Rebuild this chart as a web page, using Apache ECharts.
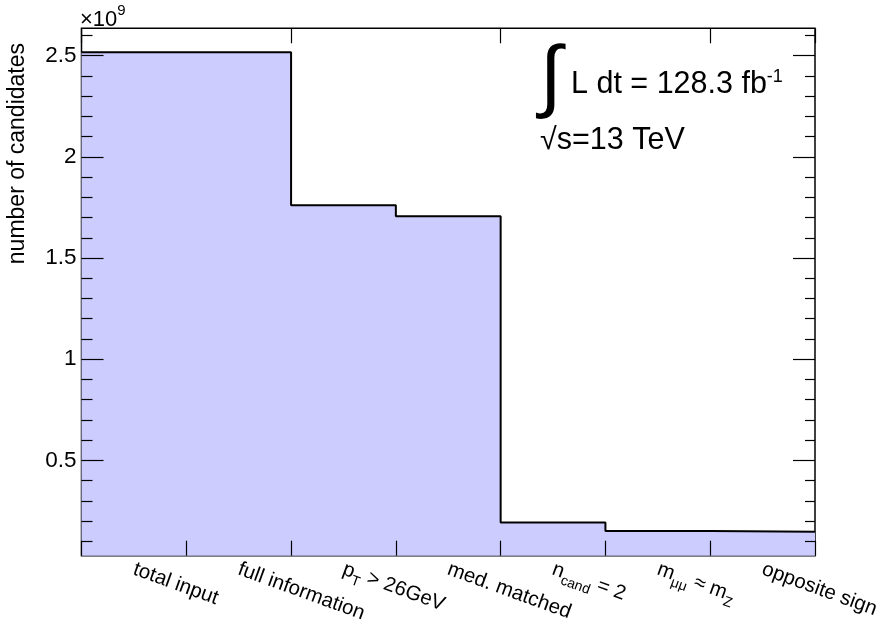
<!DOCTYPE html>
<html>
<head>
<meta charset="utf-8">
<script src="https://cdn.jsdelivr.net/npm/echarts@6/dist/echarts.min.js"></script>
<style>
  html, body { margin: 0; padding: 0; background: #ffffff; }
  #chart { width: 879px; height: 622px; }
</style>
</head>
<body>
<div id="chart"></div>
<script>
// Cut-flow steps; "_{...}" marks a subscript
const categories = [
  'total input',
  'full information',
  'p_{T} > 26GeV',
  'med. matched',
  'n_{cand} = 2',
  'm_{μμ} ≈ m_{Z}',
  'opposite sign'
];
// Candidates surviving each step, in units of 10^9
const candidates = [2.517, 2.517, 1.761, 1.706, 0.192, 0.150, 0.147];
// Y tick positions (units of 10^9)
const yMajorTicks = [0.5, 1, 1.5, 2, 2.5];
const yMinorTicks = [0.1, 0.2, 0.3, 0.4, 0.6, 0.7, 0.8, 0.9, 1.1, 1.2, 1.3, 1.4,
                     1.6, 1.7, 1.8, 1.9, 2.1, 2.2, 2.3, 2.4, 2.6];
const yTitle = 'number of candidates';
const yExponent = '9';
const lumiValue = '128.3';
const sqrtS = '13 TeV';

const FONT = '"Liberation Sans", Arial, Helvetica, sans-serif';
const FILL = '#ccccff';

// vertical range: data span padded by 5% on each side
const vMin = Math.min(...candidates), vMax = Math.max(...candidates);
const pad = 0.05 * (vMax - vMin);
const yMin = vMin - pad, yMax = vMax + pad;

// step outline: each bin drawn from its left edge to the next edge
const stepData = candidates.map((v, i) => [i, v]);
stepData.push([candidates.length, candidates[candidates.length - 1]]);

function toRich(s) {
  const re = /_\{([^}]*)\}/g;
  let out = '', last = 0, m;
  while ((m = re.exec(s))) {
    if (m.index > last) out += '{t|' + s.slice(last, m.index) + '}';
    out += '{s|' + m[1] + '}';
    last = re.lastIndex;
  }
  if (last < s.length) out += '{t|' + s.slice(last) + '}';
  return out;
}

const yAxisBase = {
  type: 'value', min: yMin, max: yMax, z: 5,
  splitLine: { show: false }, axisLine: { show: false }
};
const tickStyle = { color: '#000', width: 1.2 };

const chart = echarts.init(document.getElementById('chart'), null, { renderer: 'canvas' });
chart.setOption({
  animation: false,
  backgroundColor: '#ffffff',
  grid: {
    left: 81.5, right: 64, top: 28.3, bottom: 66.3,
    show: true, borderColor: '#000', borderWidth: 1.5, backgroundColor: 'transparent',
    containLabel: false, outerBoundsMode: 'none'
  },
  xAxis: [
    {
      type: 'category', data: categories, position: 'bottom', boundaryGap: true,
      axisLine: { show: false },
      axisTick: { show: true, inside: true, length: 15, lineStyle: tickStyle },
      axisLabel: {
        rotate: -20, margin: 13, interval: 0,
        formatter: v => toRich(v),
        rich: {
          t: { fontFamily: FONT, fontSize: 20.5, color: '#000', lineHeight: 24 },
          s: { fontFamily: FONT, fontSize: 14, color: '#000', lineHeight: 24, padding: [16, 0, 0, 0] }
        }
      },
      z: 5
    },
    {
      type: 'category', data: categories, position: 'top', boundaryGap: true,
      axisLine: { show: false },
      axisTick: { show: true, inside: true, length: 15, lineStyle: tickStyle },
      axisLabel: { show: false },
      z: 5
    },
    {
      type: 'value', min: 0, max: categories.length, show: false
    }
  ],
  yAxis: [
    Object.assign({}, yAxisBase, {
      position: 'left',
      axisTick: { show: true, inside: true, length: 22, customValues: yMajorTicks, lineStyle: tickStyle },
      axisLabel: {
        customValues: yMajorTicks, margin: 5,
        fontFamily: FONT, fontSize: 22.5, color: '#000'
      }
    }),
    Object.assign({}, yAxisBase, {
      position: 'left',
      axisTick: { show: true, inside: true, length: 11, customValues: yMinorTicks, lineStyle: tickStyle },
      axisLabel: { show: false }
    }),
    Object.assign({}, yAxisBase, {
      position: 'right',
      axisTick: { show: true, inside: true, length: 22, customValues: yMajorTicks, lineStyle: tickStyle },
      axisLabel: { show: false }
    }),
    Object.assign({}, yAxisBase, {
      position: 'right',
      axisTick: { show: true, inside: true, length: 10, customValues: yMinorTicks, lineStyle: tickStyle },
      axisLabel: { show: false }
    })
  ],
  series: [
    {
      type: 'line',
      xAxisIndex: 2, yAxisIndex: 0,
      data: stepData,
      step: 'end',
      symbol: 'none',
      lineStyle: { color: '#000', width: 2 },
      areaStyle: { color: FILL, opacity: 1, origin: 'start' },
      z: 2
    }
  ],
  graphic: [
    {
      type: 'text', left: 80, top: 3,
      style: {
        text: '{a|×10}{b|' + yExponent + '}',
        rich: {
          a: { fontFamily: FONT, fontSize: 22, fill: '#000', lineHeight: 28, verticalAlign: 'bottom' },
          b: { fontFamily: FONT, fontSize: 15, fill: '#000', lineHeight: 28, verticalAlign: 'top', padding: [0, 0, 6, 0] }
        }
      }
    },
    {
      type: 'text', x: 18, y: 43, rotation: Math.PI / 2,
      style: {
        text: yTitle, fontFamily: FONT, fontSize: 23, fill: '#000',
        align: 'right', verticalAlign: 'middle'
      }
    },
    {
      type: 'text', x: 551, y: 80,
      style: {
        text: '∫', fontFamily: FONT, fontSize: 80, fill: '#000',
        align: 'center', verticalAlign: 'middle'
      }
    },
    {
      type: 'text', x: 571, y: 85,
      style: {
        text: '{a|L dt = ' + lumiValue + ' fb}{b|-1}',
        verticalAlign: 'middle',
        rich: {
          a: { fontFamily: FONT, fontSize: 30.5, fill: '#000', lineHeight: 34 },
          b: { fontFamily: FONT, fontSize: 18, fill: '#000', lineHeight: 34, verticalAlign: 'top' }
        }
      }
    },
    {
      type: 'text', x: 540, y: 141,
      style: {
        text: '√s=' + sqrtS, fontFamily: FONT, fontSize: 30.5, fill: '#000',
        verticalAlign: 'middle'
      }
    }
  ]
});
</script>
</body>
</html>
